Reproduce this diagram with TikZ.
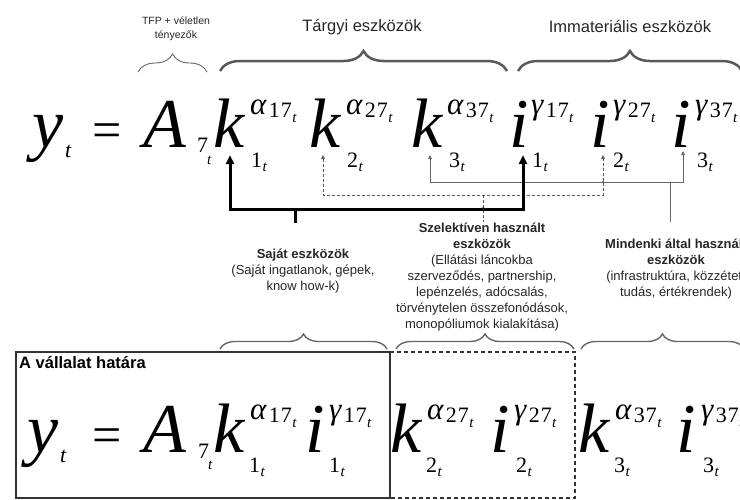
\documentclass[tikz,border=0pt]{standalone}
\usepackage{fontspec}
\setmainfont{Liberation Sans}
\newfontfamily\eqfont{Liberation Serif}
\usetikzlibrary{decorations.pathreplacing,arrows.meta}
\tikzset{
  big/.style={inner sep=0pt, anchor=base west, font=\eqfont\itshape\fontsize{70}{70}\selectfont},
  bigup/.style={inner sep=0pt, anchor=base west, font=\eqfont\fontsize{52}{52}\selectfont},
  grk/.style={inner sep=0pt, anchor=base west, font=\eqfont\itshape\fontsize{31}{31}\selectfont},
  dig/.style={inner sep=0pt, anchor=base west, font=\eqfont\fontsize{22}{22}\selectfont},
  tsub/.style={inner sep=0pt, anchor=base west, font=\eqfont\itshape\fontsize{15}{15}\selectfont},
  ytsub/.style={inner sep=0pt, anchor=base west, font=\eqfont\itshape\fontsize{22}{22}\selectfont},
  toplbl/.style={inner sep=0pt, font=\fontsize{16.5}{19}\selectfont, text=black!85},
  tfplbl/.style={inner sep=0pt, align=center, font=\fontsize{10.5}{14}\selectfont, text=black!85},
  desc/.style={inner sep=0pt, align=center, font=\fontsize{13}{16}\selectfont, text=black!85},
  bigbrace/.style={decorate, decoration={brace, amplitude=20pt}, line width=2.5pt, draw=black!65},
  lowbrace/.style={decorate, decoration={brace, amplitude=15pt}, line width=1.4pt, draw=black!60},
  tfpbrace/.style={decorate, decoration={brace, amplitude=18pt}, line width=0.9pt, draw=black!60},
  thickc/.style={line width=3pt, black},
  dashc/.style={line width=0.8pt, black!65, dash pattern=on 3pt off 2pt},
  grayc/.style={line width=0.8pt, black!60},
  bigtip/.tip={Triangle[length=9pt,width=8pt]},
  smalltip/.tip={Triangle[length=4pt,width=3.5pt]},
}
\newcommand\eqfac[8]{%
  \node[big] (#1) at (#2,#3) {#4};
  \node[grk] (#1g) at ([xshift=#7pt,yshift=33pt]#1.base west) {#5};
  \node[dig] (#1n) at ([xshift=2pt,yshift=-3pt]#1g.base east) {#6\kern1pt 7};
  \node[tsub] (#1nt) at ([yshift=-5pt]#1n.base east) {t};
  \node[dig] (#1s) at ([xshift=#8pt,yshift=-20pt]#1.base west) {#6};
  \node[tsub] (#1st) at ([yshift=-4pt]#1s.base east) {t};
}
\begin{document}
\begin{tikzpicture}[x=1pt,y=-1pt]
\useasboundingbox (0,0) rectangle (740,499);
\clip (0,0) rectangle (740,499);

% top labels and braces
\node[tfplbl] (tfp) at (176,29) {TFP + véletlen\\tényezők};
\node[toplbl] (targyi) at (362,27) {Tárgyi eszközök};
\node[toplbl] (immat) at (630,27) {Immateriális eszközök};
\draw[tfpbrace] (138,72) -- (207,72);
\draw[bigbrace] (220,71) -- (507,71);
\draw[bigbrace] (518,71) -- (742,71);

% top equation
\node[big] (ty) at (32,147) {y};
\node[ytsub] (tyt) at (65,157) {t};
\node[bigup] (teq) at (92,147) {=};
\node[big] (tA) at (143,147) {A};
\node[dig] (tA7) at (197,152) {7};
\node[tsub] (tA7t) at (207,164) {t};
\eqfac{tk1}{213}{147}{k}{α}{1}{37}{38}
\eqfac{tk2}{309}{147}{k}{α}{2}{37}{38}
\eqfac{tk3}{411}{147}{k}{α}{3}{36}{38}
\eqfac{ti1}{509}{147}{i}{γ}{1}{22}{23}
\eqfac{ti2}{590}{147}{i}{γ}{2}{23}{23}
\eqfac{ti3}{671}{147}{i}{γ}{3}{24}{26}

% connectors
\coordinate (hthick) at (0,209);
\coordinate (hdash) at (0,195);
\coordinate (hgray) at (0,182);
\coordinate (tk1tip) at ([xshift=17pt,yshift=-8pt]tk1.base west);
\coordinate (tk2tip) at ([xshift=14pt,yshift=-8pt]tk2.base west);
\coordinate (tk3tip) at ([xshift=19pt,yshift=-8pt]tk3.base west);
\coordinate (ti1tip) at ([xshift=14pt,yshift=-8pt]ti1.base west);
\coordinate (ti2tip) at ([xshift=13pt,yshift=-8pt]ti2.base west);
\coordinate (ti3tip) at ([xshift=12pt,yshift=-4pt]ti3.base west);
\coordinate (sstem) at (295,209);
\coordinate (sstemend) at (295,223);
\coordinate (dstem) at (483,195);
\coordinate (dstemend) at (483,222);
\coordinate (gstem) at (670,182);
\coordinate (gstemend) at (670,222);

\draw[grayc, smalltip-smalltip] (tk3tip) -- (tk3tip |- hgray) -- (ti3tip |- hgray) -- (ti3tip);
\draw[grayc] (gstem) -- (gstemend);
\draw[dashc, smalltip-smalltip] (tk2tip) -- (tk2tip |- hdash) -- (ti2tip |- hdash) -- (ti2tip);
\draw[dashc] (dstem) -- (dstemend);
\draw[thickc, bigtip-bigtip] (tk1tip) -- (tk1tip |- hthick) -- (ti1tip |- hthick) -- (ti1tip);
\draw[thickc] (sstem) -- (sstemend);
\fill (dstem |- hthick) circle (1.8pt);
\fill[black!60] (ti2tip |- hgray) circle (1.2pt);

% descriptions
\node[desc] (sajat) at (303,271) {\textbf{Saját eszközök}\\(Saját ingatlanok, gépek,\\know how-k)};
\node[desc] (szel) at (482,277) {\textbf{Szelektíven használt}\\\textbf{eszközök}\\(Ellátási láncokba\\szerveződés, partnership,\\lepénzelés, adócsalás,\\törvénytelen összefonódások,\\monopóliumok kialakítása)};
\node[desc] (mind) at (676,269) {\textbf{Mindenki által használt}\\\textbf{eszközök}\\(infrastruktúra, közzétett\\tudás, értékrendek)};

% lower braces
\draw[lowbrace] (220,349) -- (387,349);
\draw[lowbrace] (396,349) -- (574,349);
\draw[lowbrace] (581,349) -- (744,349);

% boxes
\draw[line width=2pt, black!80] (16,352) rectangle (390,498);
\draw[line width=2.5pt, black!80, dash pattern=on 4pt off 3pt] (390,352) -- (575,352) -- (575,498) -- (390,498);
\node[inner sep=0pt, anchor=base west, font=\bfseries\fontsize{16.5}{16.5}\selectfont] (hatar) at (19,368) {A vállalat határa};

% bottom equation
\node[big] (by) at (27,452) {y};
\node[ytsub] (byt) at (60,462) {t};
\node[bigup] (beq) at (92,452) {=};
\node[big] (bA) at (143,452) {A};
\node[dig] (bA7) at (198,458) {7};
\node[tsub] (bA7t) at (208,469) {t};
\eqfac{bk1}{213}{452}{k}{α}{1}{37}{36}
\eqfac{bi1}{305}{452}{i}{γ}{1}{24}{24}
\eqfac{bk2}{390}{452}{k}{α}{2}{37}{36}
\eqfac{bi2}{490}{452}{i}{γ}{2}{24}{26}
\eqfac{bk3}{578}{452}{k}{α}{3}{37}{36}
\eqfac{bi3}{676}{452}{i}{γ}{3}{25}{27}
\end{tikzpicture}
\end{document}
